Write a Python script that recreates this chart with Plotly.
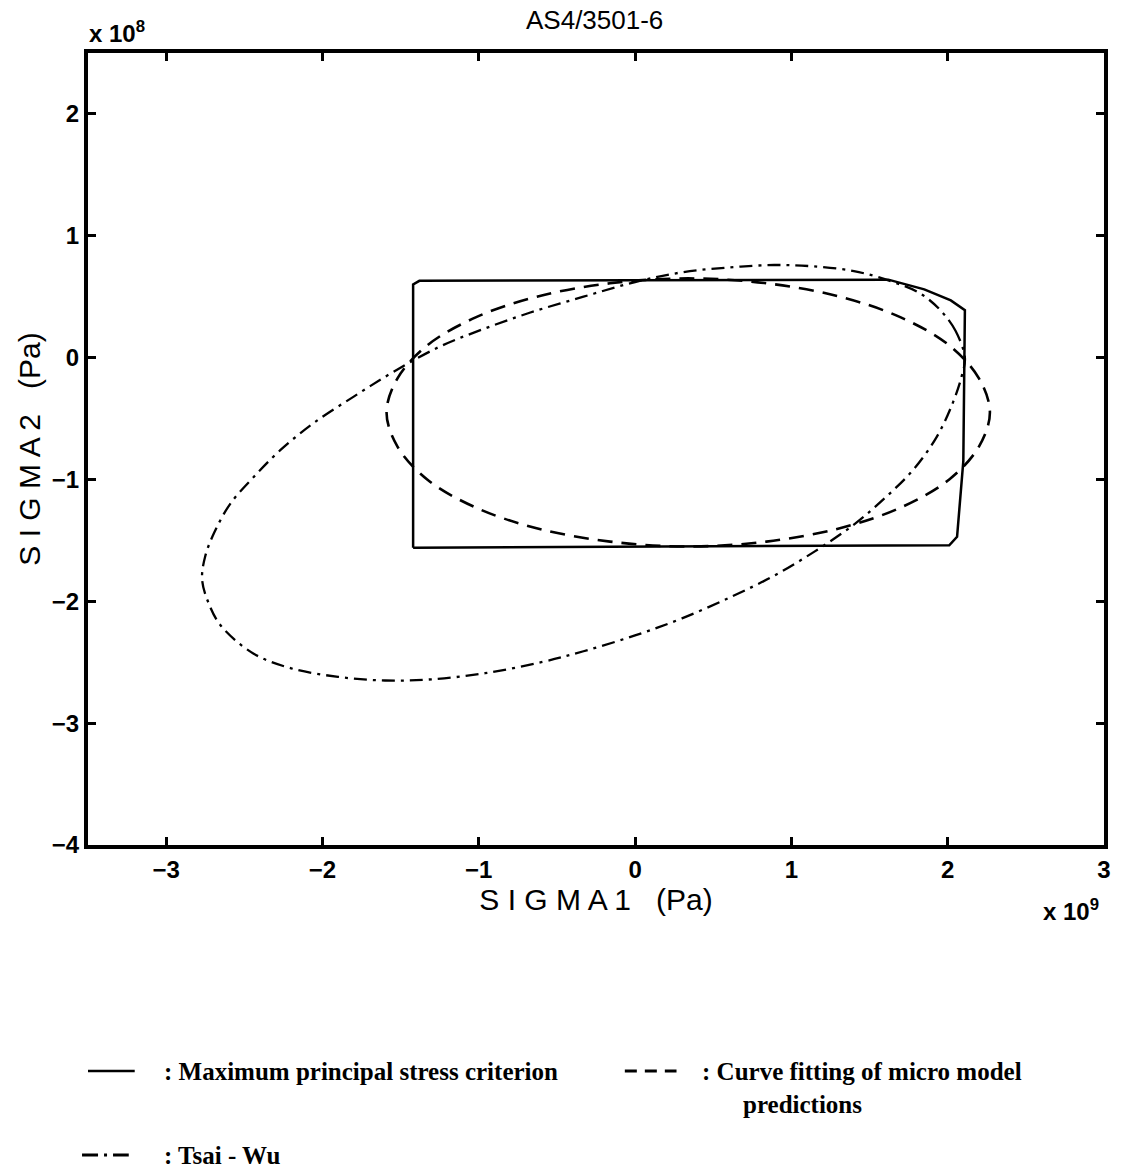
import plotly.graph_objects as go

# Units: SIGMA1 in 1e9 Pa, SIGMA2 in 1e8 Pa (as shown by the axis multipliers)
max_stress_s1 = [-1.42, -1.42, -1.38, 1.62, 1.85, 2.02, 2.11, 2.10, 2.06, 2.01, -1.42]
max_stress_s2 = [-1.56, 0.60, 0.63, 0.64, 0.56, 0.47, 0.39, -0.85, -1.47, -1.54, -1.56]

fit_s1 = [2.27, 2.20, 2.01, 1.70, 1.31, 0.84, 0.34, -0.16, -0.63, -1.02, -1.33, -1.52,
          -1.59, -1.52, -1.33, -1.02, -0.63, -0.16, 0.34, 0.84, 1.31, 1.70, 2.01, 2.20, 2.27]
fit_s2 = [-0.45, -0.17, 0.10, 0.33, 0.50, 0.61, 0.65, 0.61, 0.50, 0.33, 0.10, -0.17,
          -0.45, -0.73, -1.00, -1.23, -1.40, -1.51, -1.55, -1.51, -1.40, -1.23, -1.00, -0.73, -0.45]

tsai_s1 = [2.11, 2.05, 1.96, 1.82, 1.63, 1.40, 1.13, 0.89, 0.60, 0.30, 0.00, -0.33,
           -0.67, -0.98, -1.25, -1.55, -1.80, -2.06, -2.27, -2.44, -2.59, -2.69, -2.75,
           -2.77, -2.73, -2.65, -2.44, -2.20, -1.90, -1.60, -1.30, -0.96, -0.60, -0.33,
           0.00, 0.30, 0.62, 0.89, 1.15, 1.40, 1.60, 1.78, 1.93, 2.03, 2.09, 2.11]
tsai_s2 = [0.00, 0.22, 0.38, 0.53, 0.63, 0.71, 0.75, 0.76, 0.74, 0.70, 0.62, 0.50,
           0.37, 0.23, 0.09, -0.12, -0.32, -0.54, -0.76, -0.98, -1.20, -1.43, -1.63,
           -1.82, -2.01, -2.20, -2.43, -2.55, -2.62, -2.65, -2.64, -2.59, -2.50, -2.41,
           -2.28, -2.14, -1.96, -1.79, -1.59, -1.37, -1.15, -0.92, -0.65, -0.38, -0.15, 0.00]

x_ticks = [-3, -2, -1, 0, 1, 2, 3]
y_ticks = [-4, -3, -2, -1, 0, 1, 2]

W, H = 1123, 1176
L, R, T, B = 88, 1110, 53, 845

fig = go.Figure()
fig.add_trace(go.Scatter(x=max_stress_s1, y=max_stress_s2, mode="lines",
                         line=dict(color="black", width=2.5), showlegend=False))
fig.add_trace(go.Scatter(x=fit_s1, y=fit_s2, mode="lines", line_shape="spline",
                         line=dict(color="black", width=2.6, dash="15px,9px"), showlegend=False))
fig.add_trace(go.Scatter(x=tsai_s1, y=tsai_s2, mode="lines", line_shape="spline",
                         line=dict(color="black", width=2.3, dash="13px,6px,3px,6px"), showlegend=False))

sans = "Liberation Sans, Arial"
tickfont = dict(family=sans, size=24, color="black", weight="bold")
titlefont = dict(family=sans, size=30, color="black")
fig.update_xaxes(range=[-3.5, 3], tickvals=x_ticks, ticks="inside", ticklen=8, tickwidth=3,
                 tickcolor="black", showline=True, linewidth=4, linecolor="black", mirror="ticks",
                 showgrid=False, zeroline=False, tickfont=tickfont,
                 title=dict(text="S I G M A 1   (Pa)", standoff=5, font=titlefont))
fig.update_yaxes(range=[-4, 2.5], tickvals=y_ticks, ticks="inside", ticklen=8, tickwidth=3,
                 tickcolor="black", showline=True, linewidth=4, linecolor="black", mirror="ticks",
                 showgrid=False, zeroline=False, tickfont=tickfont,
                 title=dict(text="S I G M A 2   (Pa)", standoff=3, font=titlefont))

def px(x):
    return (x - L) / (R - L)

def py(y):
    return (B - y) / (B - T)

anns = [
    dict(text="AS4/3501-6", x=px(597), y=py(20), font=dict(size=26)),
    dict(text="x 10<sup>8</sup>", x=px(117), y=py(32), font=dict(size=24, weight="bold")),
    dict(text="x 10<sup>9</sup>", x=px(1077), y=py(910), font=dict(size=24, weight="bold")),
]
serif = dict(family="Liberation Serif, Times New Roman", size=25, color="black", weight="bold")
anns += [
    dict(text=": Maximum principal stress criterion", x=px(162), y=py(1071), xanchor="left", font=serif),
    dict(text=": Curve fitting of micro model", x=px(704), y=py(1071), xanchor="left", font=serif),
    dict(text="predictions", x=px(745), y=py(1104), xanchor="left", font=serif),
    dict(text=": Tsai - Wu", x=px(162), y=py(1155), xanchor="left", font=serif),
]
for a in anns:
    a.setdefault("xanchor", "center")
    a.update(xref="paper", yref="paper", yanchor="middle", showarrow=False)
    f = dict(family=sans, color="black")
    f.update(a["font"])
    a["font"] = f
fig.update_layout(annotations=anns)

shapes = [
    dict(type="line", x0=px(88), x1=px(135), y0=py(1071), y1=py(1071),
         line=dict(color="black", width=2.5)),
    dict(type="line", x0=px(628), x1=px(680), y0=py(1071), y1=py(1071),
         line=dict(color="black", width=3, dash="12px,8px")),
    dict(type="line", x0=px(82), x1=px(129), y0=py(1155), y1=py(1155),
         line=dict(color="black", width=3, dash="16px,6px,3px,6px")),
]
for s in shapes:
    s.update(xref="paper", yref="paper")
fig.update_layout(shapes=shapes)

fig.update_layout(width=W, height=H, margin=dict(l=L, r=W - R, t=T, b=H - B),
                  plot_bgcolor="white", paper_bgcolor="white",
                  font=dict(family=sans, color="black"))
fig.write_html("out.html")
